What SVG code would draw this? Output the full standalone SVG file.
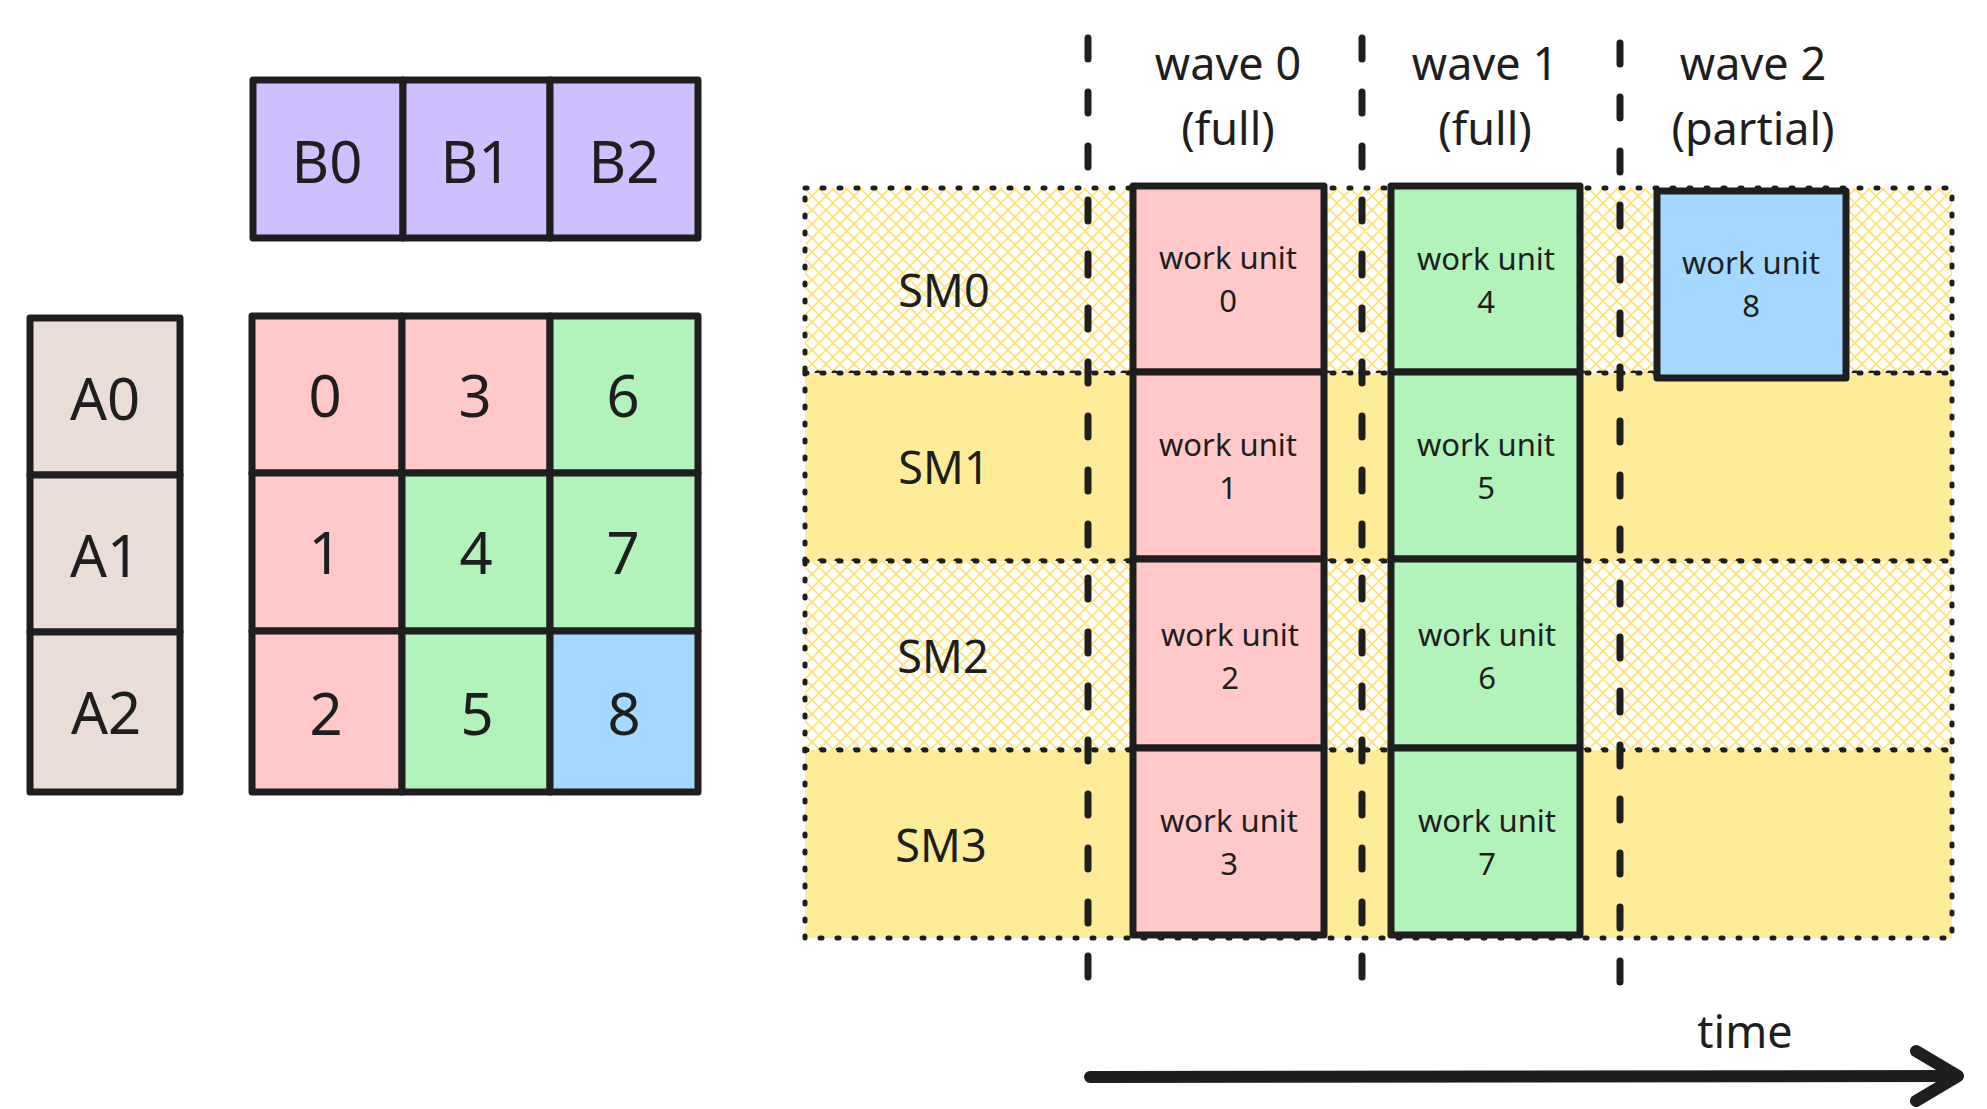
<svg xmlns="http://www.w3.org/2000/svg" width="1987" height="1109" viewBox="0 0 1987 1109">
<style>
.box{stroke:#1e1e1e;stroke-width:7;stroke-linejoin:round}
.b{fill:#d0bfff}.a{fill:#eaddd7}.p{fill:#ffc9c9}.g{fill:#b2f2bb}.bl{fill:#a5d8ff}
.big{font-family:"Noto Sans","Open Sans",sans-serif;font-size:58px;fill:#1e1e1e;text-anchor:middle;dominant-baseline:central}
.lbl{font-family:"Noto Sans","Open Sans",sans-serif;font-size:45px;fill:#1e1e1e;text-anchor:middle;dominant-baseline:central}
.wu{font-family:"Noto Sans","Open Sans",sans-serif;font-size:31px;fill:#1e1e1e;text-anchor:middle;dominant-baseline:central}
.row{stroke:#1e1e1e;stroke-width:5;stroke-dasharray:2 15;stroke-linecap:round}
.solid{fill:#ffec99}.hatch{fill:url(#xh)}
.wave{stroke:#1e1e1e;stroke-width:7;stroke-dasharray:21 33;stroke-linecap:round;fill:none}
.conn{stroke:#1e1e1e;stroke-width:12;stroke-linecap:round;stroke-linejoin:round;fill:none}
</style>
<defs>
<pattern id="xh" patternUnits="userSpaceOnUse" width="14" height="14">
<rect width="14" height="14" fill="#ffffff"/>
<path d="M0,0 L14,14 M-3,11 L3,17 M11,-3 L17,3 M14,0 L0,14 M-3,3 L3,-3 M11,17 L17,11" stroke="#ffe27a" stroke-width="1.8"/>
</pattern>
</defs>
<rect width="1987" height="1109" fill="#ffffff"/>

<g id="B0"><rect class="box b" x="253" y="80" width="150" height="158"/><text class="big" x="327" y="160">B0</text></g>
<g id="B1"><rect class="box b" x="403" y="80" width="147" height="158"/><text class="big" x="476" y="160">B1</text></g>
<g id="B2"><rect class="box b" x="550" y="80" width="148" height="158"/><text class="big" x="624" y="160">B2</text></g>

<g id="A0"><rect class="box a" x="30" y="318" width="150" height="157"/><text class="big" x="105" y="397">A0</text></g>
<g id="A1"><rect class="box a" x="30" y="475" width="150" height="157"/><text class="big" x="105" y="554">A1</text></g>
<g id="A2"><rect class="box a" x="30" y="632" width="150" height="160"/><text class="big" x="106" y="711">A2</text></g>

<g id="C0"><rect class="box p" x="252" y="316" width="150" height="157"/><text class="big" x="325" y="394">0</text></g>
<g id="C3"><rect class="box p" x="402" y="316" width="148" height="157"/><text class="big" x="475" y="394">3</text></g>
<g id="C6"><rect class="box g" x="550" y="316" width="148" height="157"/><text class="big" x="623" y="394">6</text></g>
<g id="C1"><rect class="box p" x="252" y="473" width="150" height="158"/><text class="big" x="325" y="551">1</text></g>
<g id="C4"><rect class="box g" x="402" y="473" width="148" height="158"/><text class="big" x="476" y="551">4</text></g>
<g id="C7"><rect class="box g" x="550" y="473" width="148" height="158"/><text class="big" x="623" y="551">7</text></g>
<g id="C2"><rect class="box p" x="252" y="631" width="150" height="161"/><text class="big" x="326" y="712">2</text></g>
<g id="C5"><rect class="box g" x="402" y="631" width="148" height="161"/><text class="big" x="477" y="712">5</text></g>
<g id="C8"><rect class="box bl" x="550" y="631" width="148" height="161"/><text class="big" x="624" y="712">8</text></g>

<g id="SM0"><rect class="hatch" x="805" y="188" width="1147" height="185"/><rect class="row" x="805" y="188" width="1147" height="185" fill="none"/><text class="lbl" x="944" y="289">SM0</text></g>
<g id="SM1"><rect class="solid" x="805" y="373" width="1147" height="188"/><rect class="row" x="805" y="373" width="1147" height="188" fill="none"/><text class="lbl" x="944" y="466">SM1</text></g>
<g id="SM2"><rect class="hatch" x="805" y="561" width="1147" height="189"/><rect class="row" x="805" y="561" width="1147" height="189" fill="none"/><text class="lbl" x="943" y="655">SM2</text></g>
<g id="SM3"><rect class="solid" x="805" y="750" width="1147" height="188"/><rect class="row" x="805" y="750" width="1147" height="188" fill="none"/><text class="lbl" x="941" y="844">SM3</text></g>

<g id="wave-dividers">
<line class="wave" x1="1088" y1="38" x2="1088" y2="978"/>
<line class="wave" x1="1362" y1="38" x2="1362" y2="980"/>
<line class="wave" x1="1620" y1="43" x2="1620" y2="986"/>
</g>

<g id="wave0-label"><text class="lbl" x="1228" y="62">wave 0</text><text class="lbl" x="1228" y="127">(full)</text></g>
<g id="wave1-label"><text class="lbl" x="1485" y="62">wave 1</text><text class="lbl" x="1485" y="127">(full)</text></g>
<g id="wave2-label"><text class="lbl" x="1753" y="62">wave 2</text><text class="lbl" x="1753" y="127">(partial)</text></g>

<g id="WU0"><rect class="box p" x="1133" y="186" width="191" height="186"/><text class="wu" x="1228" y="257">work unit</text><text class="wu" x="1228" y="300">0</text></g>
<g id="WU1"><rect class="box p" x="1133" y="372" width="191" height="187"/><text class="wu" x="1228" y="444">work unit</text><text class="wu" x="1228" y="487">1</text></g>
<g id="WU2"><rect class="box p" x="1133" y="559" width="191" height="189"/><text class="wu" x="1230" y="634">work unit</text><text class="wu" x="1230" y="677">2</text></g>
<g id="WU3"><rect class="box p" x="1133" y="748" width="191" height="187"/><text class="wu" x="1229" y="820">work unit</text><text class="wu" x="1229" y="863">3</text></g>
<g id="WU4"><rect class="box g" x="1391" y="186" width="189" height="186"/><text class="wu" x="1486" y="258">work unit</text><text class="wu" x="1486" y="301">4</text></g>
<g id="WU5"><rect class="box g" x="1391" y="372" width="189" height="187"/><text class="wu" x="1486" y="444">work unit</text><text class="wu" x="1486" y="487">5</text></g>
<g id="WU6"><rect class="box g" x="1391" y="559" width="189" height="189"/><text class="wu" x="1487" y="634">work unit</text><text class="wu" x="1487" y="677">6</text></g>
<g id="WU7"><rect class="box g" x="1391" y="748" width="189" height="187"/><text class="wu" x="1487" y="820">work unit</text><text class="wu" x="1487" y="863">7</text></g>
<g id="WU8"><rect class="box bl" x="1657" y="191" width="189" height="187"/><text class="wu" x="1751" y="262">work unit</text><text class="wu" x="1751" y="305">8</text></g>

<g id="time-label"><text class="lbl" x="1745" y="1030">time</text></g>

<g id="connectors">
<path class="conn" d="M1090,1077 L1954,1076"/>
<path class="conn" d="M1916,1051 L1958,1076 L1916,1101"/>
</g>
</svg>
